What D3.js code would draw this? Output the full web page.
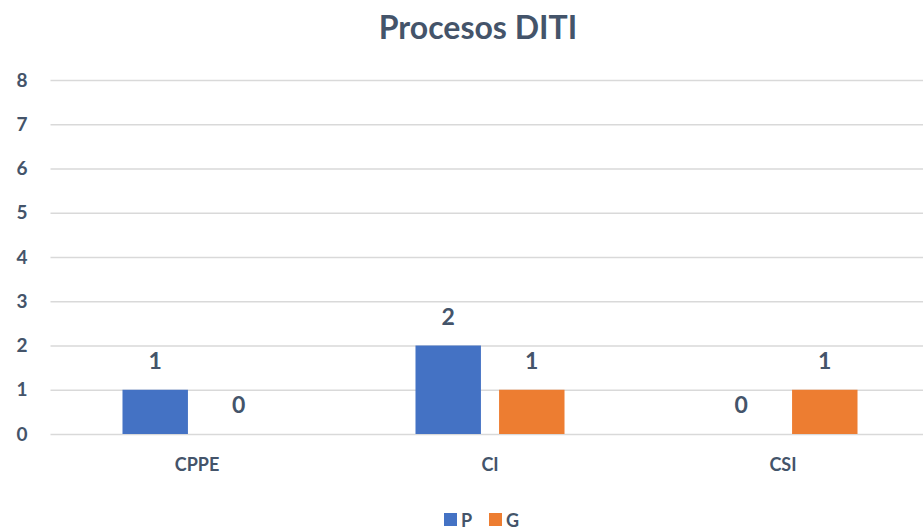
<!DOCTYPE html>
<html><head><meta charset="utf-8">
<script src="https://cdn.jsdelivr.net/npm/d3@7"></script>
<style>body{margin:0;background:#fff}svg{display:block}text{font-family:Lato,"Open Sans",sans-serif;font-weight:bold;fill:#44546A}</style>
</head><body>
<svg id="c" width="923" height="530"></svg>
<script>
const categories = ["CPPE", "CI", "CSI"];
const seriesNames = ["P", "G"];
const valuesP = [1, 2, 0];
const valuesG = [0, 1, 1];
const yTicks = [0, 1, 2, 3, 4, 5, 6, 7, 8];
const colors = ["#4472C4", "#ED7D31"];
const title = "Procesos DITI";

const svg = d3.select("#c");
const x = d3.scaleBand().domain(categories).range([50.5, 929.5]).paddingInner(0).paddingOuter(0);
const y = d3.scaleLinear().domain([0, 8]).range([434, 80]);
const inner = d3.scaleBand().domain(seriesNames).range([0, x.bandwidth()]).paddingInner(18/83).paddingOuter(71.5/83);

svg.append("text").attr("x", 478).attr("y", 39).attr("text-anchor", "middle").style("font-size", "32px").text(title);

const yAxis = svg.append("g").attr("transform", "translate(50.5,0)")
  .call(d3.axisLeft(y).tickValues(yTicks).tickSize(-880).tickPadding(23).tickFormat(d3.format("d")));
yAxis.select(".domain").remove();
yAxis.selectAll(".tick line").attr("stroke", "#D9D9D9").attr("stroke-width", 1.5);
yAxis.selectAll(".tick text").style("font-size", "19px").attr("fill", "#44546A");

const xAxis = svg.append("g").attr("transform", "translate(0,434)")
  .call(d3.axisBottom(x).tickSize(0).tickPadding(24));
xAxis.select(".domain").remove();
xAxis.selectAll(".tick text").style("font-size", "18px").attr("fill", "#44546A");

const data = categories.map((c, i) => ({c, vals: [valuesP[i], valuesG[i]]}));
const groups = svg.append("g").selectAll("g").data(data).join("g")
  .attr("transform", d => `translate(${x(d.c)},0)`);
groups.selectAll("rect").data(d => d.vals.map((v, j) => ({v, s: seriesNames[j], j})))
  .join("rect")
  .attr("x", d => inner(d.s)).attr("width", inner.bandwidth())
  .attr("y", d => y(d.v)).attr("height", d => y(0) - y(d.v))
  .attr("fill", d => colors[d.j]);
groups.selectAll("text.lbl").data(d => d.vals.map((v, j) => ({v, s: seriesNames[j], j})))
  .join("text").attr("class", "lbl")
  .attr("x", d => inner(d.s) + inner.bandwidth() / 2)
  .attr("y", d => y(d.v) - 21)
  .attr("text-anchor", "middle").style("font-size", "23px")
  .text(d => d.v);

const legend = svg.append("g").attr("transform", "translate(444,513)");
seriesNames.forEach((s, i) => {
  const g = legend.append("g").attr("transform", `translate(${i * 45},0)`);
  g.append("rect").attr("width", 13).attr("height", 13).attr("fill", colors[i]);
  g.append("text").attr("x", 17).attr("y", 13.5).style("font-size", "18px").text(s);
});
</script>
</body></html>
